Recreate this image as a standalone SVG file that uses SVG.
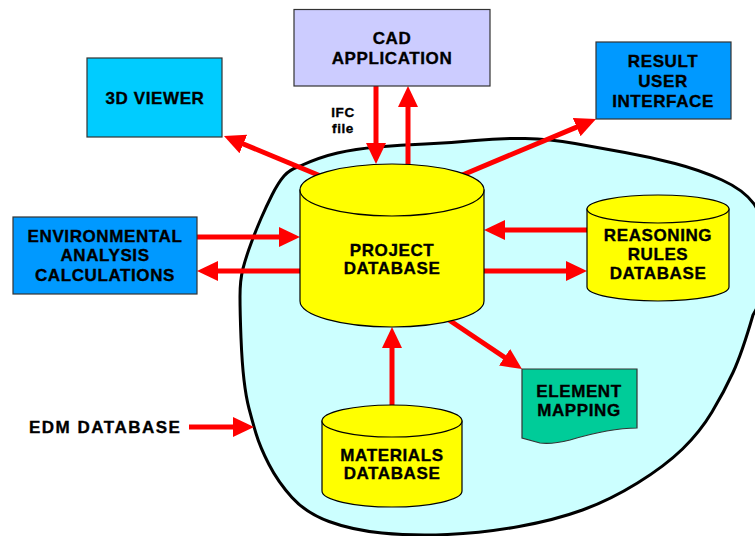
<svg xmlns="http://www.w3.org/2000/svg" width="755" height="536" viewBox="0 0 755 536">
<defs>
<style>
.box{stroke:#333333;stroke-width:1.2}
.cyl{fill:#FFFF00;stroke:#000000;stroke-width:1.2}
.t{font-family:"Liberation Sans",Arial,sans-serif;font-weight:bold;font-size:17px;letter-spacing:0.6px;fill:#000000;stroke:#000000;stroke-width:0.35px;text-anchor:middle}
.s{font-size:13.5px}
.arr{stroke:#FF0000;stroke-width:5;fill:none;marker-end:url(#ah)}
</style>
<marker id="ah" markerUnits="userSpaceOnUse" markerWidth="24" markerHeight="24" refX="11" refY="11" orient="auto" viewBox="0 0 24 24">
<path d="M0,1 L21,11 L0,21 Z" fill="#FF0000"/>
</marker>
</defs>
<rect width="755" height="536" fill="#FFFFFF"/>
<g id="edm-blob">
<path d="M300,166 Q320,157 337.5,153 Q355,149 377.5,147 Q400,145 425,144 Q450,143 475,140.5 Q500,138 525,138.5 Q550,139 575,143.5 Q600,148 625,152.5 Q650,157 675,163.5 Q700,170 722,180 Q744,190 754,204 Q768,225 768,255 Q768,290 753,315 Q742,353 733,372.5 Q724,392 712,412 Q700,432 682.5,449 Q665,466 637.5,483 Q610,500 582.5,510 Q555,520 519,526.5 Q483,533 447.5,534.5 Q412,536 382,533 Q352,530 329,521.5 Q306,513 292,497.5 Q278,482 269,464.5 Q260,447 256,433.5 Q252,420 249,408.5 Q246,397 244,380 Q242,363 241,338 Q240,313 240,296.5 Q240,280 243,268.5 Q246,257 251,243.5 Q256,230 261,218.5 Q266,207 272,195 Q278,183 284,176 Q289,170 300,166 Z" fill="#CCFFFF" stroke="#000000" stroke-width="3"/>
</g>
<g id="connectors">
<line class="arr" x1="376" y1="86" x2="376" y2="154"/>
<line class="arr" x1="408" y1="164" x2="408" y2="96"/>
<line class="arr" x1="323" y1="177" x2="233.2" y2="139.8"/>
<line class="arr" x1="460" y1="176" x2="586.8" y2="122.9"/>
<line class="arr" x1="197" y1="237" x2="290" y2="237"/>
<line class="arr" x1="300" y1="271" x2="207" y2="271"/>
<line class="arr" x1="587" y1="230" x2="494" y2="230"/>
<line class="arr" x1="484" y1="271" x2="577" y2="271"/>
<line class="arr" x1="392" y1="405" x2="392" y2="337"/>
<line class="arr" x1="449" y1="320" x2="513.7" y2="363.4"/>
<line class="arr" x1="189" y1="427" x2="244" y2="427"/>
</g>
<g id="cad-application">
<rect class="box" x="294" y="9.5" width="196" height="76.5" fill="#CCCCFF"/>
<text class="t" x="392" y="44">CAD</text>
<text class="t" x="392" y="64">APPLICATION</text>
</g>
<g id="ifc-label">
<text class="t s" x="343" y="117">IFC</text>
<text class="t s" x="343" y="133">file</text>
</g>
<g id="viewer-3d">
<rect class="box" x="87" y="58" width="135" height="79" fill="#00CCFF"/>
<text class="t" x="155" y="104">3D VIEWER</text>
</g>
<g id="result-ui">
<rect class="box" x="596" y="42" width="135" height="77" fill="#0099FF"/>
<text class="t" x="663" y="67">RESULT</text>
<text class="t" x="663" y="87">USER</text>
<text class="t" x="663" y="107">INTERFACE</text>
</g>
<g id="env-analysis">
<rect class="box" x="13" y="217" width="184" height="77" fill="#0099FF"/>
<text class="t" x="105" y="242">ENVIRONMENTAL</text>
<text class="t" x="105" y="261">ANALYSIS</text>
<text class="t" x="105" y="281">CALCULATIONS</text>
</g>
<g id="project-database">
<path class="cyl" d="M300,190 L300,301 A92,26 0 0 0 484,301 L484,190 Z"/>
<ellipse class="cyl" cx="392" cy="190" rx="92" ry="26"/>
<text class="t" x="392" y="256">PROJECT</text>
<text class="t" x="392" y="274">DATABASE</text>
</g>
<g id="reasoning-rules">
<path class="cyl" d="M587,209 L587,287 A71,14 0 0 0 729,287 L729,209 Z"/>
<ellipse class="cyl" cx="658" cy="209" rx="71" ry="14"/>
<text class="t" x="658" y="241">REASONING</text>
<text class="t" x="658" y="260">RULES</text>
<text class="t" x="658" y="279">DATABASE</text>
</g>
<g id="materials-database">
<path class="cyl" d="M322,421 L322,491 A70,16 0 0 0 462,491 L462,421 Z"/>
<ellipse class="cyl" cx="392" cy="421" rx="70" ry="16"/>
<text class="t" x="392" y="461">MATERIALS</text>
<text class="t" x="392" y="479">DATABASE</text>
</g>
<g id="element-mapping">
<path class="box" d="M522,369 L637,369 L637,428 C615,428 590,434 570,440 C558,443 548,444 540,443 L522,438 Z" fill="#00CC99"/>
<text class="t" x="579" y="397">ELEMENT</text>
<text class="t" x="579" y="416">MAPPING</text>
</g>
<g id="edm-label">
<text class="t" x="29" y="433" style="text-anchor:start;letter-spacing:1.5px">EDM DATABASE</text>
</g>
</svg>
